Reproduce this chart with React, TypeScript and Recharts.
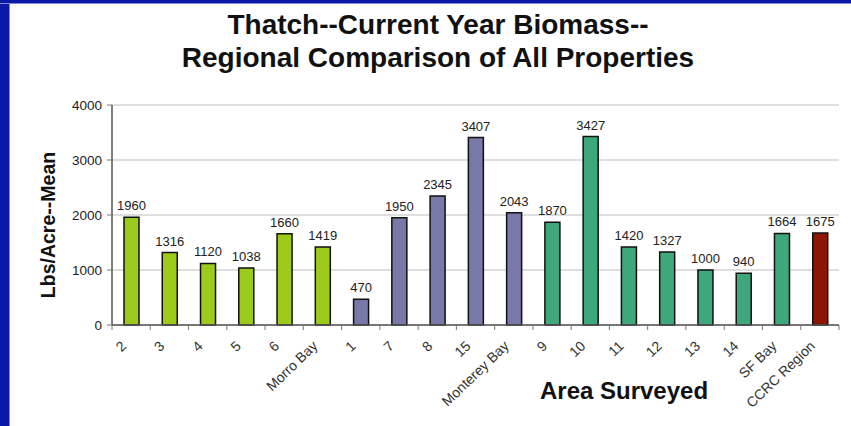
import { BarChart, Bar, XAxis, YAxis, CartesianGrid, Cell, LabelList } from "recharts";

const categories = [
  "2", "3", "4", "5", "6", "Morro Bay",
  "1", "7", "8", "15", "Monterey Bay",
  "9", "10", "11", "12", "13", "14", "SF Bay",
  "CCRC Region",
];
const values = [
  1960, 1316, 1120, 1038, 1660, 1419,
  470, 1950, 2345, 3407, 2043,
  1870, 3427, 1420, 1327, 1000, 940, 1664,
  1675,
];
const regions = [
  "morro", "morro", "morro", "morro", "morro", "morro",
  "monterey", "monterey", "monterey", "monterey", "monterey",
  "sf", "sf", "sf", "sf", "sf", "sf", "sf",
  "ccrc",
];
const yTicks = [0, 1000, 2000, 3000, 4000];

const REGION_COLORS: Record<string, string> = {
  morro: "#9dcb1b",
  monterey: "#7878a9",
  sf: "#3ea77b",
  ccrc: "#8c1603",
};

const FONT = '"Liberation Sans", Arial, sans-serif';
const W = 851;
const H = 426;
const PLOT_LEFT = 112;
const PLOT_RIGHT = 839;
const BAND = (PLOT_RIGHT - PLOT_LEFT) / categories.length;

const data = categories.map((name, i) => ({ name, value: values[i], region: regions[i] }));

function CategoryTick(props: any) {
  const { x, y, payload, index } = props;
  const left = x - BAND / 2;
  const right = x + BAND / 2;
  return (
    <g>
      <line x1={left} y1={y} x2={left} y2={y + 5} stroke="#777" strokeWidth={1} />
      {index === categories.length - 1 && (
        <line x1={right} y1={y} x2={right} y2={y + 5} stroke="#777" strokeWidth={1} />
      )}
      <text
        x={x - 4}
        y={y + 22}
        transform={`rotate(-44 ${x - 4} ${y + 22})`}
        textAnchor="end"
        fontSize={14}
        fontFamily={FONT}
        fill="#333"
      >
        {payload.value}
      </text>
    </g>
  );
}

export default function App() {
  return (
    <div
      style={{
        position: "absolute",
        left: 0,
        top: 0,
        width: W,
        height: H,
        background: "#fff",
        overflow: "hidden",
        fontFamily: FONT,
      }}
    >
      {/* slide frame */}
      <div style={{ position: "absolute", left: 0, top: 0, width: 9, height: H, background: "#0b1aa6" }} />
      <div style={{ position: "absolute", left: 9, top: 0, width: 1, height: H, background: "#7f8ad6" }} />
      <div style={{ position: "absolute", left: 0, top: 0, width: W, height: 3, background: "#0b1aa6" }} />
      <div style={{ position: "absolute", left: 0, top: 3, width: W, height: 1, background: "#7f8ad6" }} />

      <div
        style={{
          position: "absolute",
          left: 0,
          top: 8,
          width: 876,
          textAlign: "center",
          fontWeight: "bold",
          fontSize: 28,
          lineHeight: "33px",
          color: "#111",
        }}
      >
        Thatch--Current Year Biomass--
        <br />
        Regional Comparison of All Properties
      </div>

      <BarChart
        width={W}
        height={H}
        data={data}
        margin={{ top: 105, right: W - PLOT_RIGHT, bottom: 0, left: PLOT_LEFT - 60 }}
        style={{ position: "absolute", left: 0, top: 0 }}
      >
        <CartesianGrid vertical={false} stroke="#bdbdbd" strokeWidth={1} />
        <XAxis
          dataKey="name"
          height={H - 325}
          interval={0}
          tickLine={false}
          tickSize={0}
          tickMargin={0}
          axisLine={{ stroke: "#555", strokeWidth: 1.5 }}
          tick={<CategoryTick />}
        />
        <XAxis
          xAxisId="top"
          dataKey="name"
          orientation="top"
          height={0}
          tick={false}
          tickLine={false}
          axisLine={{ stroke: "#555", strokeWidth: 1.5 }}
        />
        <YAxis
          width={60}
          domain={[0, 4000]}
          ticks={yTicks}
          tickSize={5}
          tickMargin={5}
          tickLine={{ stroke: "#777" }}
          axisLine={{ stroke: "#555", strokeWidth: 1.5 }}
          tick={{ fontSize: 13.5, fill: "#222", fontFamily: FONT }}
        />
        <YAxis
          yAxisId="right"
          orientation="right"
          width={0}
          domain={[0, 4000]}
          tick={false}
          tickLine={false}
          axisLine={{ stroke: "#555", strokeWidth: 1.5 }}
        />
        <Bar dataKey="value" barSize={15} stroke="#111" strokeWidth={1.5} isAnimationActive={false}>
          {data.map((d) => (
            <Cell key={d.name} fill={REGION_COLORS[d.region]} />
          ))}
          <LabelList
            dataKey="value"
            position="top"
            offset={7}
            fontSize={13}
            fill="#222"
            fontFamily={FONT}
          />
        </Bar>
      </BarChart>

      <div
        style={{
          position: "absolute",
          left: 48 - 150,
          top: 225 - 14,
          width: 300,
          height: 28,
          lineHeight: "28px",
          textAlign: "center",
          transform: "rotate(-90deg)",
          fontWeight: "bold",
          fontSize: 19.5,
          color: "#111",
        }}
      >
        Lbs/Acre--Mean
      </div>

      <div
        style={{
          position: "absolute",
          left: 624 - 150,
          top: 377,
          width: 300,
          textAlign: "center",
          fontWeight: "bold",
          fontSize: 24,
          color: "#111",
        }}
      >
        Area Surveyed
      </div>
    </div>
  );
}
